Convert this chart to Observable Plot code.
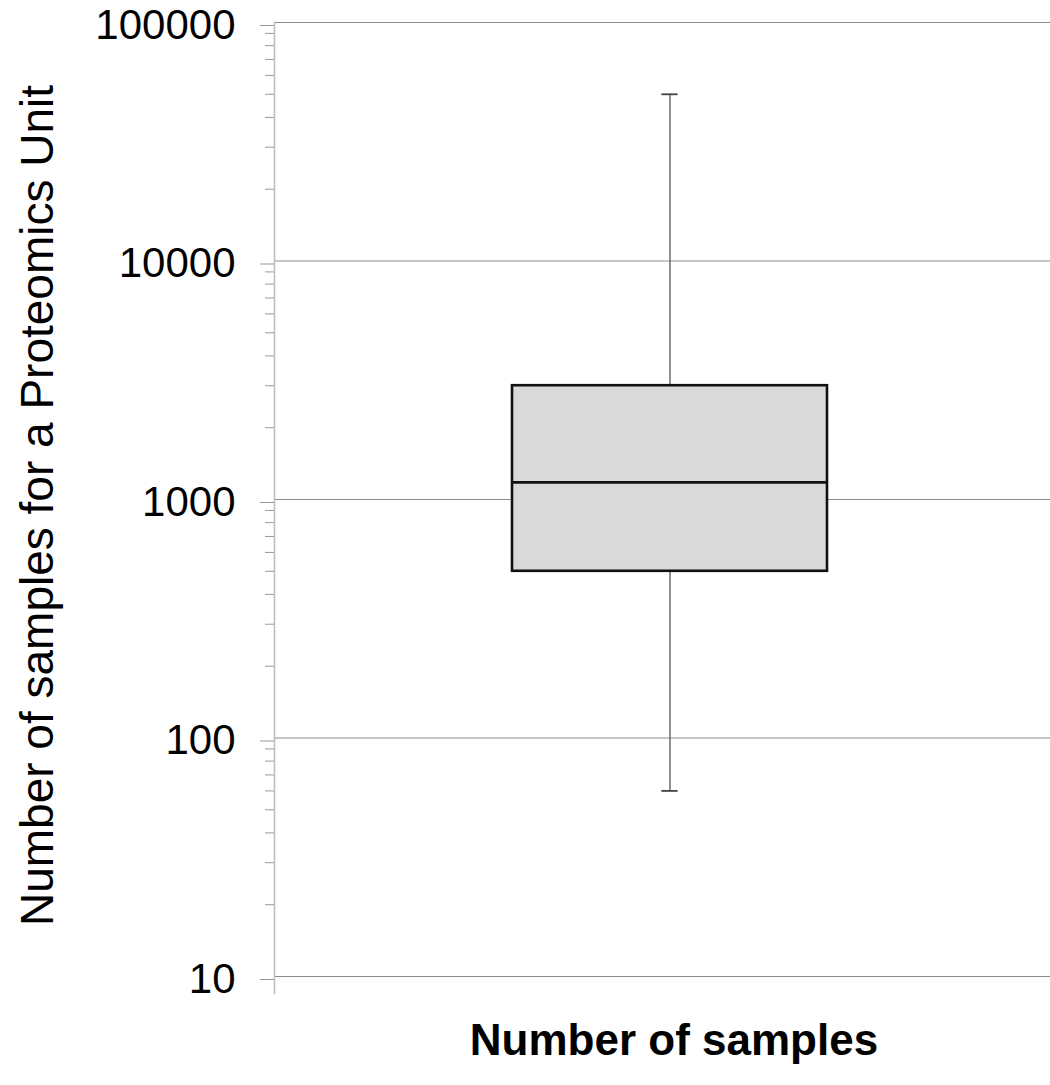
<!DOCTYPE html>
<html>
<head>
<meta charset="utf-8">
<script src="https://cdn.jsdelivr.net/npm/d3@7"></script>
<script src="https://cdn.jsdelivr.net/npm/@observablehq/plot@0.6"></script>
<style>
  html, body { margin: 0; padding: 0; background: #fff; overflow: hidden; }
  #chart { width: 1050px; height: 1085px; overflow: hidden; }
  #chart svg { max-width: none !important; }
</style>
</head>
<body>
<div id="chart"></div>
<script>
// ---- data ----
const categories = ["Number of samples"];
const whiskerLow = [60];
const quartile1 = [500];
const medians = [1180];
const quartile3 = [3000];
const whiskerHigh = [50000];

const majorTicks = [10, 100, 1000, 10000, 100000];
const minorTicks = [
  20, 30, 40, 50, 60, 70, 80, 90,
  200, 300, 400, 500, 600, 700, 800, 900,
  2000, 3000, 4000, 5000, 6000, 7000, 8000, 9000,
  20000, 30000, 40000, 50000, 60000, 70000, 80000, 90000
];
const yTitle = "Number of samples for a Proteomics Unit";

const boxes = categories.map((c, i) => ({
  cat: c, lo: whiskerLow[i], q1: quartile1[i], med: medians[i], q3: quartile3[i], hi: whiskerHigh[i]
}));

const FONT = "'Liberation Sans', Arial, sans-serif";
const plotW = 1066, marginLeft = 274;
const pad = 0.43;
const bandW = (plotW - marginLeft) * (1 - pad) / (1 + pad);
const capW = 17;
const capInset = (bandW - capW) / 2;

const chart = Plot.plot({
  width: plotW,
  height: 1085,
  marginTop: 22,
  marginBottom: 109,
  marginLeft: marginLeft,
  marginRight: 0,
  style: { fontFamily: FONT, background: "white", overflow: "visible", maxWidth: "none" },
  x: { type: "band", domain: categories, padding: pad, axis: null },
  y: { type: "log", domain: [10, 100000], axis: null },
  marks: [
    Plot.gridY(majorTicks, { stroke: "#8c8c8c", strokeOpacity: 1, strokeWidth: 1 }),
    Plot.frame({ anchor: "left", stroke: "#bfbfbf", strokeWidth: 1.6, insetBottom: -17 }),
    Plot.axisY({
      ticks: minorTicks, tickSize: 9, tickFormat: () => "",
      stroke: "#999", strokeWidth: 1
    }),
    Plot.axisY({
      ticks: majorTicks, tickSize: 14, tickPadding: 25,
      tickFormat: d => String(d),
      stroke: "#999", strokeWidth: 1, fill: "#000",
      fontSize: 42, dy: 3, label: null
    }),
    Plot.axisX({
      tickSize: 0, tickPadding: 47, fontSize: 44, fontWeight: "bold",
      fill: "#000", label: null, dx: 4
    }),
    // whisker stems
    Plot.ruleX(boxes, { x: "cat", y1: "q3", y2: "hi", stroke: "#555", strokeWidth: 1.3 }),
    Plot.ruleX(boxes, { x: "cat", y1: "lo", y2: "q1", stroke: "#555", strokeWidth: 1.3 }),
    // whisker caps
    Plot.tickY(boxes, { x: "cat", y: "hi", stroke: "#444", strokeWidth: 1.8, insetLeft: capInset, insetRight: capInset }),
    Plot.tickY(boxes, { x: "cat", y: "lo", stroke: "#444", strokeWidth: 1.8, insetLeft: capInset, insetRight: capInset }),
    // box
    Plot.barY(boxes, { x: "cat", y1: "q1", y2: "q3", fill: "#d9d9d9", stroke: "#111", strokeWidth: 2.6 }),
    // median
    Plot.tickY(boxes, { x: "cat", y: "med", stroke: "#111", strokeWidth: 2.6 }),
    // y axis title
    Plot.text([yTitle], {
      frameAnchor: "left", text: d => d, rotate: -90,
      dx: -222, dy: 6, lineAnchor: "bottom", textAnchor: "middle",
      fontSize: 46, fill: "#000", fontFamily: FONT
    })
  ]
});

document.getElementById("chart").appendChild(chart);
</script>
</body>
</html>
